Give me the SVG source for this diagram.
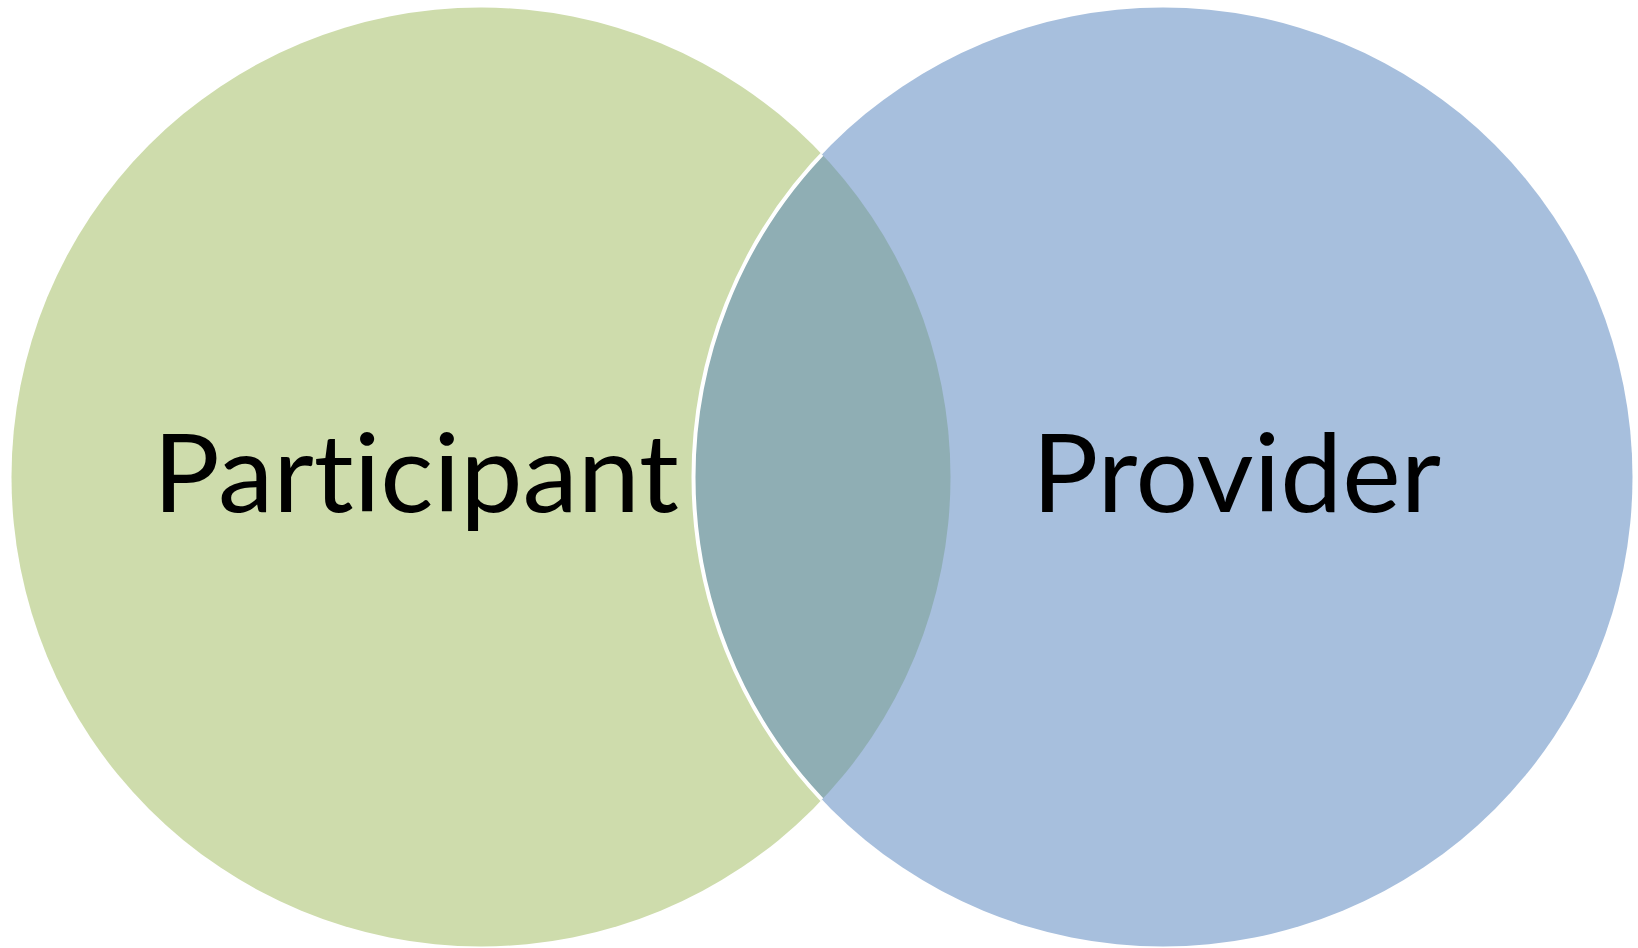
<svg xmlns="http://www.w3.org/2000/svg" width="1638" height="948" viewBox="0 0 1638 948">
  <style>
    .label { font-family: "Lato", "Open Sans", "Liberation Sans", sans-serif; font-size: 108px; fill: #000000; font-variant-ligatures: none; font-feature-settings: "liga" 0, "clig" 0; }
  </style>
  <defs>
    <clipPath id="clip-left">
      <circle cx="481" cy="477" r="469.5"/>
    </clipPath>
  </defs>
  <rect width="1638" height="948" fill="#ffffff"/>
  <g id="participant">
    <circle cx="481" cy="477" r="469.5" fill="#cedcac"/>
  </g>
  <g id="provider">
    <circle cx="1163" cy="477" r="469.5" fill="#a7bfdd"/>
    <!-- shared region of the two sets -->
    <circle cx="1163" cy="477" r="469.5" fill="#8faeb4" clip-path="url(#clip-left)"/>
    <circle cx="1163" cy="477" r="469.5" fill="none" stroke="#ffffff" stroke-width="4" clip-path="url(#clip-left)"/>
  </g>
  <g id="labels">
    <text class="label" x="153" y="512" textLength="526" lengthAdjust="spacingAndGlyphs">Participant</text>
    <text class="label" x="1032" y="512" textLength="409" lengthAdjust="spacingAndGlyphs">Provider</text>
  </g>
  <g id="connectors"/>
</svg>
